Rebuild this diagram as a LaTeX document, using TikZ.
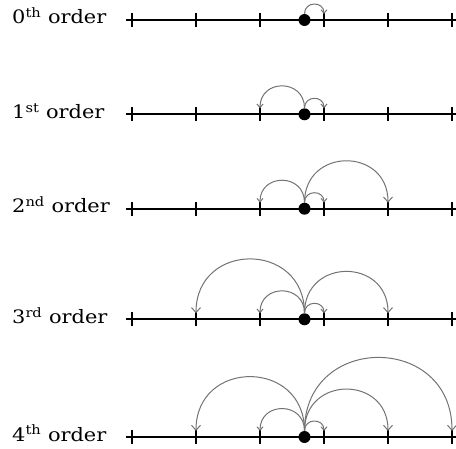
\documentclass[tikz,border=0pt]{standalone}
\usepackage{fontspec}
\setmainfont{DejaVu Serif}
\usetikzlibrary{arrows.meta}
\newcommand\rowbase[3]{%
  \node[lab] (lab#1) at (12,#2-4) {\scalebox{1.13}[1]{#3 order}};
  \coordinate (a#1) at (126,#2);
  \coordinate (b#1) at (462,#2);
  \draw[axis] (a#1) -- (b#1);
  \foreach \i/\x in {1/132,2/196,3/260,4/324,5/388,6/452}{
    \coordinate (t#1-\i) at (\x,#2);
    \draw[tickmark] ([yshift=-7pt]t#1-\i) -- ([yshift=7pt]t#1-\i);
    \coordinate (e#1-\i) at (\x,#2+6);
  }
  \node[site] (d#1) at (304.5,#2) {};
}
\begin{document}
\begin{tikzpicture}[x=1pt,y=1pt,
  axis/.style={line width=2.2pt, black},
  tickmark/.style={line width=2pt, black},
  hop/.style={draw=black!55, line width=1pt, out=90, in=90, looseness=1.7,
    -{Straight Barb[length=3.5pt,width=6pt]}},
  bighop/.style={hop, -{Straight Barb[length=5pt,width=9pt]}},
  site/.style={circle, fill=black, inner sep=0pt, minimum size=12pt},
  lab/.style={anchor=base west, inner sep=0pt, font=\fontsize{18.5}{22}\selectfont}]
\useasboundingbox (0,0) rectangle (456,448);
\rowbase{0}{428}{0\textsuperscript{th}}
\rowbase{1}{333.7}{1\textsuperscript{st}}
\rowbase{2}{239.3}{2\textsuperscript{nd}}
\rowbase{3}{128.7}{3\textsuperscript{rd}}
\rowbase{4}{11}{4\textsuperscript{th}}
% row 0
\draw[hop] (d0.north) to (e0-4);
% row 1
\draw[hop] (d1.north) to (e1-4);
\draw[hop] (d1.north) to (e1-3);
% row 2
\draw[hop] (d2.north) to (e2-4);
\draw[hop] (d2.north) to (e2-3);
\draw[bighop] (d2.north) to (e2-5);
% row 3
\draw[hop] (d3.north) to (e3-4);
\draw[hop] (d3.north) to (e3-3);
\draw[bighop] (d3.north) to (e3-5);
\draw[bighop] (d3.north) to (e3-2);
% row 4
\draw[hop] (d4.north) to (e4-4);
\draw[hop] (d4.north) to (e4-3);
\draw[bighop] (d4.north) to (e4-5);
\draw[bighop] (d4.north) to (e4-2);
\draw[bighop] (d4.north) to (e4-6);
\end{tikzpicture}
\end{document}
